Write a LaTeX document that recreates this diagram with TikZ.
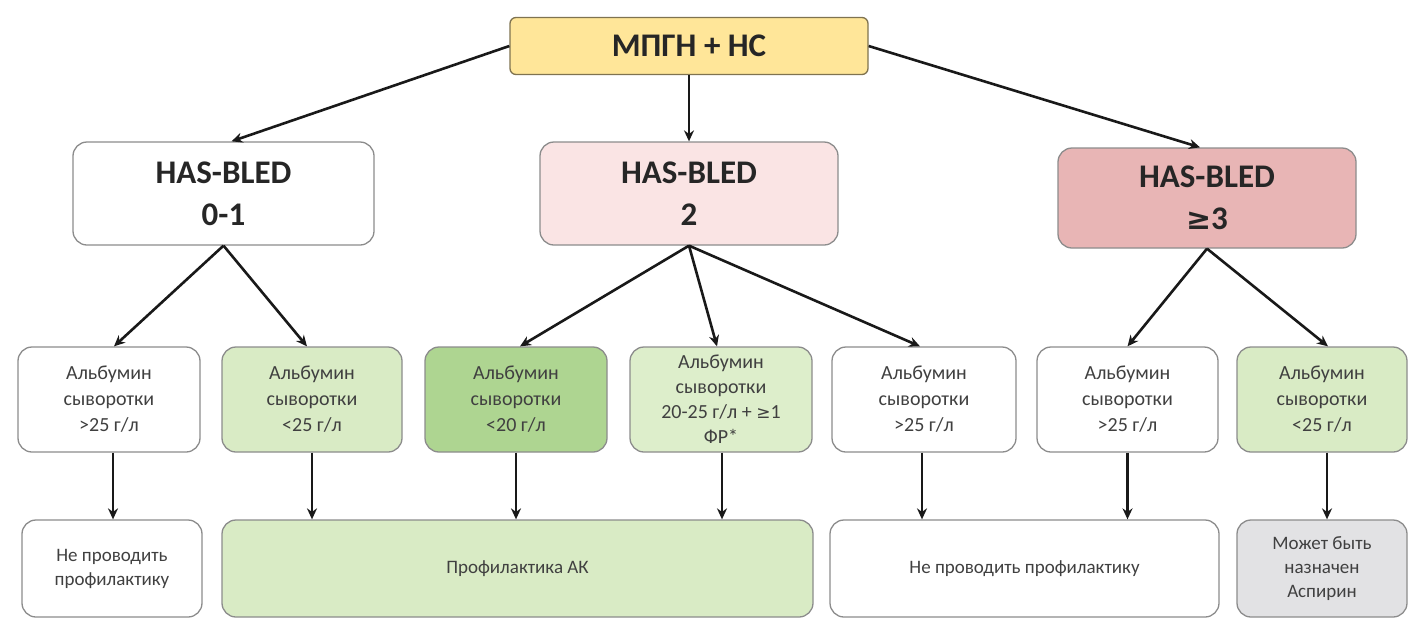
\documentclass[tikz,border=0pt]{standalone}
\usepackage{fontspec}
\setmainfont{Carlito}
\newfontfamily\symfont{DejaVu Sans}
\usetikzlibrary{arrows.meta}
\definecolor{topfill}{HTML}{FFE699}
\definecolor{topborder}{HTML}{7F7350}
\definecolor{pinkA}{HTML}{FAE4E4}
\definecolor{pinkB}{HTML}{E8B5B5}
\definecolor{greenL}{HTML}{D9EBC5}
\definecolor{greenD}{HTML}{AED591}
\definecolor{greenM}{HTML}{DDEECB}
\definecolor{grayF}{HTML}{E2E2E4}
\definecolor{bordergray}{HTML}{8C8C8C}
\definecolor{textdark}{HTML}{262626}
\definecolor{textmid}{HTML}{404040}
\tikzset{
  box/.style={draw=bordergray, line width=1.3pt, rounded corners=14pt, align=center, inner sep=0pt, fill=white},
  hdr/.style={box, minimum height=103pt, font=\bfseries\fontsize{33}{42}\selectfont, text=textdark},
  topbox/.style={box, draw=topborder, fill=topfill, rounded corners=6pt, minimum width=358pt, minimum height=57pt, font=\bfseries\fontsize{33}{40}\selectfont, text=textdark},
  alb/.style={box, minimum height=105pt, font=\fontsize{20}{26}\selectfont, text=textmid},
  res/.style={box, minimum height=97pt, font=\fontsize{19}{24}\selectfont, text=textmid},
  arr/.style={-{Stealth[length=11pt,width=10pt]}, line width=2.6pt, draw=black!90}
}
\begin{document}
\begin{tikzpicture}[x=1pt,y=-1pt]
\useasboundingbox (0,0) rectangle (1408,619);

\node[topbox] (top) at (689,46) {МПГН + НС};

\node[hdr, minimum width=301pt] (h1) at (223.5,193.5) {HAS-BLED\\0-1};
\node[hdr, minimum width=298pt, fill=pinkA] (h2) at (689,193.5) {HAS-BLED\\2};
\node[hdr, minimum width=298pt, minimum height=100pt, fill=pinkB] (h3) at (1207,198) {HAS-BLED\\{\symfont\fontsize{30}{40}\selectfont ≥}3};

\node[alb, minimum width=182pt] (a1) at (109,399.5) {Альбумин\\сыворотки\\>25 г/л};
\node[alb, minimum width=180pt, fill=greenL] (a2) at (312,399.5) {Альбумин\\сыворотки\\<25 г/л};
\node[alb, minimum width=182pt, fill=greenD] (a3) at (516,399.5) {Альбумин\\сыворотки\\<20 г/л};
\node[alb, minimum width=182pt, fill=greenM, font=\fontsize{20}{25}\selectfont] (a4) at (721,399.5) {Альбумин\\сыворотки\\20-25 г/л + {\symfont\fontsize{17}{25}\selectfont ≥}1\\ФР*};
\node[alb, minimum width=184pt] (a5) at (924,399.5) {Альбумин\\сыворотки\\>25 г/л};
\node[alb, minimum width=181pt] (a6) at (1127.5,399.5) {Альбумин\\сыворотки\\>25 г/л};
\node[alb, minimum width=170pt, fill=greenL] (a7) at (1322,399.5) {Альбумин\\сыворотки\\<25 г/л};

\node[res, minimum width=180pt] (b1) at (112,568.5) {Не проводить\\профилактику};
\node[res, minimum width=591pt, fill=greenL] (b2) at (517.5,568.5) {Профилактика АК};
\node[res, minimum width=389pt] (b3) at (1024.5,568.5) {Не проводить профилактику};
\node[res, minimum width=170pt, fill=grayF] (b4) at (1322,568.5) {Может быть\\назначен\\Аспирин};

\draw[arr] (top.west) -- ([xshift=8pt]h1.north);
\draw[arr] (top.south) -- (h2.north);
\draw[arr] (top.east) -- ([xshift=-7pt]h3.north);

\draw[arr] (h1.south) -- ([xshift=5pt]a1.north);
\draw[arr] (h1.south) -- ([xshift=-5pt]a2.north);
\draw[arr] (h2.south) -- ([xshift=4pt]a3.north);
\draw[arr] (h2.south) -- ([xshift=-4pt]a4.north);
\draw[arr] (h2.south) -- ([xshift=-4pt]a5.north);
\draw[arr] (h3.south) -- (a6.north);
\draw[arr] (h3.south) -- ([xshift=6pt]a7.north);

\draw[arr] ([xshift=4pt]a1.south) -- ([xshift=4pt]a1.south |- b1.north);
\draw[arr] (a2.south) -- (a2.south |- b2.north);
\draw[arr] (a3.south) -- (a3.south |- b2.north);
\draw[arr] ([xshift=1pt]a4.south) -- ([xshift=1pt]a4.south |- b2.north);
\draw[arr] ([xshift=-2pt]a5.south) -- ([xshift=-2pt]a5.south |- b3.north);
\draw[arr] (a6.south) -- (a6.south |- b3.north);
\draw[arr] ([xshift=5pt]a7.south) -- ([xshift=5pt]a7.south |- b4.north);
\end{tikzpicture}
\end{document}
